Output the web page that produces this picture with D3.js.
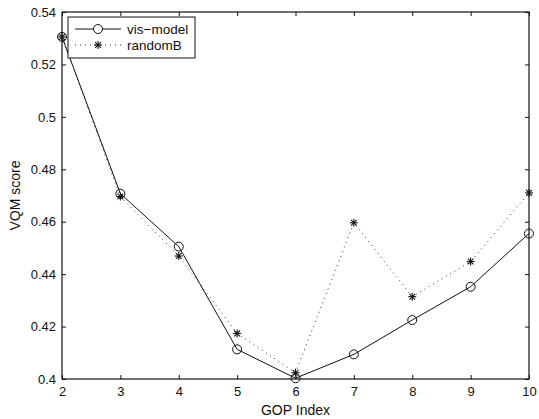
<!DOCTYPE html>
<html>
<head>
<meta charset="utf-8">
<script src="https://cdn.jsdelivr.net/npm/d3@7"></script>
<style>
  html, body { margin: 0; padding: 0; background: #fff; }
  svg { display: block; }
  text { font-family: "Liberation Sans", Arial, Helvetica, sans-serif; fill: #111; }
</style>
</head>
<body>
<svg id="chart" width="539" height="419"></svg>
<script>
// GOP indices and VQM scores for the two methods
const gopIndex = [2, 3, 4, 5, 6, 7, 8, 9, 10];
const visModel = [0.5305, 0.4707, 0.4505, 0.4113, 0.4003, 0.4094, 0.4225, 0.4352, 0.4555];
const randomB  = [0.5305, 0.4696, 0.4469, 0.4174, 0.4024, 0.4596, 0.4314, 0.4448, 0.4710];
const xTicks = [2, 3, 4, 5, 6, 7, 8, 9, 10];
const yTicks = [0.4, 0.42, 0.44, 0.46, 0.48, 0.5, 0.52, 0.54];
const seriesNames = ["vis\u2212model", "randomB"];

const svg = d3.select("#chart");
const L = 62, R = 529, T = 12, B = 379;

const x = d3.scaleLinear().domain([2, 10]).range([L, R]);
const y = d3.scaleLinear().domain([0.4, 0.54]).range([B, T]);

const tickLen = 4;
const fmtY = d => String(+d.toFixed(2));

// bottom axis with inward ticks
const gx = svg.append("g").attr("transform", `translate(0,${B})`)
  .call(d3.axisBottom(x).tickValues(xTicks).tickSizeInner(-tickLen).tickSizeOuter(0).tickPadding(8).tickFormat(d3.format("d")));
// left axis
const gy = svg.append("g").attr("transform", `translate(${L},0)`)
  .call(d3.axisLeft(y).tickValues(yTicks).tickSizeInner(-tickLen).tickSizeOuter(0).tickPadding(6).tickFormat(fmtY));
// top and right mirrored ticks
const gt = svg.append("g").attr("transform", `translate(0,${T})`)
  .call(d3.axisTop(x).tickValues(xTicks).tickSizeInner(-tickLen).tickSizeOuter(0).tickFormat(""));
const gr = svg.append("g").attr("transform", `translate(${R},0)`)
  .call(d3.axisRight(y).tickValues(yTicks).tickSizeInner(-tickLen).tickSizeOuter(0).tickFormat(""));

[gx, gy, gt, gr].forEach(g => {
  g.select(".domain").remove();
  g.selectAll(".tick line").attr("stroke", "#111").attr("stroke-width", 1);
  g.selectAll(".tick text").attr("font-size", 13).attr("fill", "#111")
    .attr("font-family", "'Liberation Sans', Arial, sans-serif");
});

// axes box
svg.append("rect").attr("x", L).attr("y", T).attr("width", R - L).attr("height", B - T)
  .attr("fill", "none").attr("stroke", "#111").attr("stroke-width", 1.2);

// axis titles
svg.append("text").attr("x", (L + R) / 2).attr("y", 415).attr("text-anchor", "middle")
  .attr("font-size", 14).text("GOP Index");
svg.append("text").attr("transform", `translate(20,${(T + B) / 2}) rotate(-90)`)
  .attr("text-anchor", "middle").attr("font-size", 14).text("VQM score");

const line = d3.line().x((d, i) => x(gopIndex[i])).y(d => y(d));

// randomB: dotted line with asterisk markers
svg.append("path").datum(randomB).attr("d", line)
  .attr("fill", "none").attr("stroke", "#333").attr("stroke-width", 1)
  .attr("stroke-dasharray", "1,4");

// vis-model: solid line with circle markers
svg.append("path").datum(visModel).attr("d", line)
  .attr("fill", "none").attr("stroke", "#111").attr("stroke-width", 1);

function star(g, cx, cy, r) {
  const s = g.append("g").attr("transform", `translate(${cx},${cy})`)
    .attr("stroke", "#111").attr("stroke-width", 1.1);
  s.append("line").attr("x1", -r).attr("x2", r).attr("y1", 0).attr("y2", 0);
  s.append("line").attr("x1", 0).attr("x2", 0).attr("y1", -r).attr("y2", r);
  const k = r * 0.72;
  s.append("line").attr("x1", -k).attr("x2", k).attr("y1", -k).attr("y2", k);
  s.append("line").attr("x1", -k).attr("x2", k).attr("y1", k).attr("y2", -k);
}

randomB.forEach((v, i) => star(svg, x(gopIndex[i]), y(v), 4));

svg.selectAll("circle.vm").data(visModel).enter().append("circle")
  .attr("class", "vm")
  .attr("cx", (d, i) => x(gopIndex[i])).attr("cy", d => y(d)).attr("r", 4.5)
  .attr("fill", "none").attr("stroke", "#111").attr("stroke-width", 1);

// legend
const lg = svg.append("g");
lg.append("rect").attr("x", 68).attr("y", 17).attr("width", 127).attr("height", 41)
  .attr("fill", "#fff").attr("stroke", "#111").attr("stroke-width", 1);
const rowsY = [29, 45];
lg.append("line").attr("x1", 75).attr("x2", 121).attr("y1", rowsY[0]).attr("y2", rowsY[0])
  .attr("stroke", "#111").attr("stroke-width", 1);
lg.append("circle").attr("cx", 98).attr("cy", rowsY[0]).attr("r", 4.5)
  .attr("fill", "#fff").attr("stroke", "#111").attr("stroke-width", 1);
lg.append("line").attr("x1", 75).attr("x2", 121).attr("y1", rowsY[1]).attr("y2", rowsY[1])
  .attr("stroke", "#333").attr("stroke-width", 1).attr("stroke-dasharray", "1,4");
star(lg, 98, rowsY[1], 4);
seriesNames.forEach((n, i) => {
  lg.append("text").attr("x", 127).attr("y", rowsY[i]).attr("dy", "0.35em")
    .attr("font-size", 13.5).text(n);
});
</script>
</body>
</html>
